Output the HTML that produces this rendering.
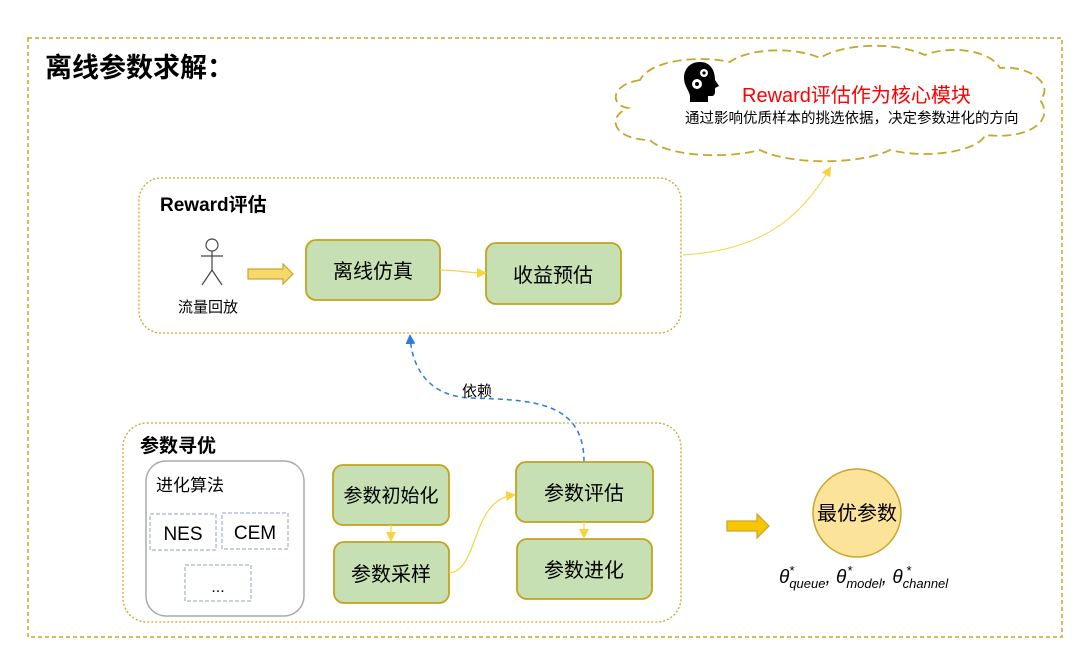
<!DOCTYPE html>
<html><head><meta charset="utf-8"><style>
html,body{margin:0;padding:0;background:#fff;}
svg{display:block;}
text{font-family:"Liberation Sans","Noto Sans CJK SC",sans-serif;}
</style></head><body>
<svg width="1080" height="656" viewBox="0 0 1080 656" xmlns="http://www.w3.org/2000/svg">
<defs>
<marker id="ay" markerWidth="10" markerHeight="10" refX="8" refY="5" orient="auto" markerUnits="userSpaceOnUse"><path d="M0,0 L10,5 L0,10 z" fill="#f5d442"/></marker>
<marker id="ab" markerWidth="10" markerHeight="10" refX="8" refY="5" orient="auto" markerUnits="userSpaceOnUse"><path d="M0,0 L10,5 L0,10 z" fill="#2b7be4"/></marker>
</defs>
<rect x="28" y="38" width="1034" height="599" fill="none" stroke="#c9a62a" stroke-width="1.5" stroke-dasharray="4,3"/>
<text x="45" y="77" font-size="27" font-weight="bold" fill="#000">离线参数求解：</text>

<!-- cloud -->
<path d="M640,80 C610,85 610,105 628,108 C605,118 615,140 650,140 C665,155 720,160 760,150 C790,165 860,165 890,150 C930,160 980,150 985,135 C1030,140 1055,120 1040,100 C1055,85 1030,65 1000,68 C990,50 950,45 925,55 C890,40 840,45 820,58 C790,45 745,50 730,62 C700,55 650,60 640,80 Z" fill="#fff" stroke="#c9a62a" stroke-width="1.8" stroke-dasharray="9,5"/>
<g transform="translate(684,62)" fill="#000">
<path d="M16,0 C5,0 0,8 0,16 C0,24 5,28 6,34 L6,40 L24,40 L24,34 L28,34 C30,34 31,32 31,30 L31,26 L35,24 L31,18 C31,8 26,0 16,0 Z"/>
<circle cx="13" cy="22" r="5" fill="#fff"/><circle cx="13" cy="22" r="2" fill="#000"/>
<circle cx="20" cy="11" r="4" fill="#fff"/><circle cx="20" cy="11" r="1.6" fill="#000"/>
</g>
<text x="742" y="102" font-size="20" fill="#f00">Reward评估作为核心模块</text>
<text x="685" y="123" font-size="14.5" fill="#000">通过影响优质样本的挑选依据，决定参数进化的方向</text>

<!-- Reward box -->
<rect x="139" y="178" width="542" height="155" rx="22" fill="none" stroke="#c9a62a" stroke-width="1.3" stroke-dasharray="2,2"/>
<text x="160" y="211" font-size="19" font-weight="bold">Reward评估</text>
<g stroke="#444" stroke-width="1.2" fill="none">
<circle cx="212" cy="245" r="6"/><line x1="212" y1="251" x2="212" y2="270"/><line x1="201" y1="256" x2="223" y2="256"/>
<line x1="212" y1="270" x2="202" y2="285"/><line x1="212" y1="270" x2="222" y2="285"/></g>
<text x="178" y="312" font-size="15">流量回放</text>
<path d="M248,269 L283,269 L283,264 L293,274 L283,284 L283,279 L248,279 Z" fill="#f6d96a" stroke="#c9a62a" stroke-width="1.2"/>
<rect x="306" y="240" width="134" height="60" rx="10" fill="#c6e0b4" stroke="#c2a31e" stroke-width="1.8"/>
<text x="373" y="278" font-size="20" text-anchor="middle">离线仿真</text>
<rect x="486" y="243" width="135" height="61" rx="10" fill="#c6e0b4" stroke="#c2a31e" stroke-width="1.8"/>
<text x="553" y="282" font-size="20" text-anchor="middle">收益预估</text>
<path d="M440,270 C460,270 465,273 485,273" fill="none" stroke="#f5d442" stroke-width="1.2" marker-end="url(#ay)"/>
<path d="M683,255 C760,250 800,220 830,168" fill="none" stroke="#f5d442" stroke-width="1" marker-end="url(#ay)"/>

<!-- dependency -->
<path d="M584,462 C584,400 530,400 470,398 C430,396 412,370 410,336" fill="none" stroke="#2b7be4" stroke-width="1.5" stroke-dasharray="5,4" marker-end="url(#ab)"/>
<text x="462" y="396" font-size="15">依赖</text>

<!-- Params box -->
<rect x="123" y="423" width="558" height="199" rx="24" fill="none" stroke="#c9a62a" stroke-width="1.3" stroke-dasharray="2,2"/>
<text x="140" y="452" font-size="19" font-weight="bold">参数寻优</text>
<rect x="146" y="461" width="158" height="155" rx="20" fill="#fff" stroke="#aaa" stroke-width="1.5"/>
<text x="156" y="491" font-size="17">进化算法</text>
<rect x="150" y="514" width="66" height="36" fill="none" stroke="#8ea0bf" stroke-width="1" stroke-dasharray="4,2"/>
<text x="183" y="540" font-size="19" text-anchor="middle">NES</text>
<rect x="222" y="513" width="66" height="36" fill="none" stroke="#8ea0bf" stroke-width="1" stroke-dasharray="4,2"/>
<text x="255" y="539" font-size="19" text-anchor="middle">CEM</text>
<rect x="185" y="565" width="66" height="36" fill="none" stroke="#8ea0bf" stroke-width="1" stroke-dasharray="4,2"/>
<text x="218" y="592" font-size="16" text-anchor="middle">...</text>

<rect x="333" y="465" width="116" height="60" rx="10" fill="#c6e0b4" stroke="#c2a31e" stroke-width="1.8"/>
<text x="391" y="502" font-size="19" text-anchor="middle">参数初始化</text>
<rect x="334" y="542" width="115" height="61" rx="10" fill="#c6e0b4" stroke="#c2a31e" stroke-width="1.8"/>
<text x="391" y="581" font-size="20" text-anchor="middle">参数采样</text>
<rect x="516" y="462" width="137" height="60" rx="10" fill="#c6e0b4" stroke="#c2a31e" stroke-width="1.8"/>
<text x="584" y="500" font-size="20" text-anchor="middle">参数评估</text>
<rect x="517" y="539" width="135" height="60" rx="10" fill="#c6e0b4" stroke="#c2a31e" stroke-width="1.8"/>
<text x="584" y="577" font-size="20" text-anchor="middle">参数进化</text>
<path d="M391,525 L391,540" stroke="#f5d442" stroke-width="1.2" marker-end="url(#ay)"/>
<path d="M584,522 L584,537" stroke="#f5d442" stroke-width="1.2" marker-end="url(#ay)"/>
<path d="M449,573 C480,570 470,500 514,495" fill="none" stroke="#f5d442" stroke-width="1.2" marker-end="url(#ay)"/>

<path d="M727,521 L757,521 L757,514 L769,526 L757,538 L757,531 L727,531 Z" fill="#f7c600" stroke="#c9a62a" stroke-width="1.2"/>
<circle cx="857" cy="513" r="44" fill="#fbe49a" stroke="#c9a62a" stroke-width="1.5"/>
<text x="857" y="520" font-size="20" text-anchor="middle">最优参数</text>
<text x="779" y="583" font-size="19" font-style="italic" font-family="Liberation Serif,serif">θ<tspan font-size="13" dy="5">queue</tspan><tspan dy="-5">, θ</tspan><tspan font-size="13" dy="5">model</tspan><tspan dy="-5">, θ</tspan><tspan font-size="13" dy="5">channel</tspan></text>
<text x="789" y="575" font-size="13" font-style="italic">*</text>
<text x="847" y="575" font-size="13" font-style="italic">*</text>
<text x="906" y="575" font-size="13" font-style="italic">*</text>
</svg>
</body></html>
